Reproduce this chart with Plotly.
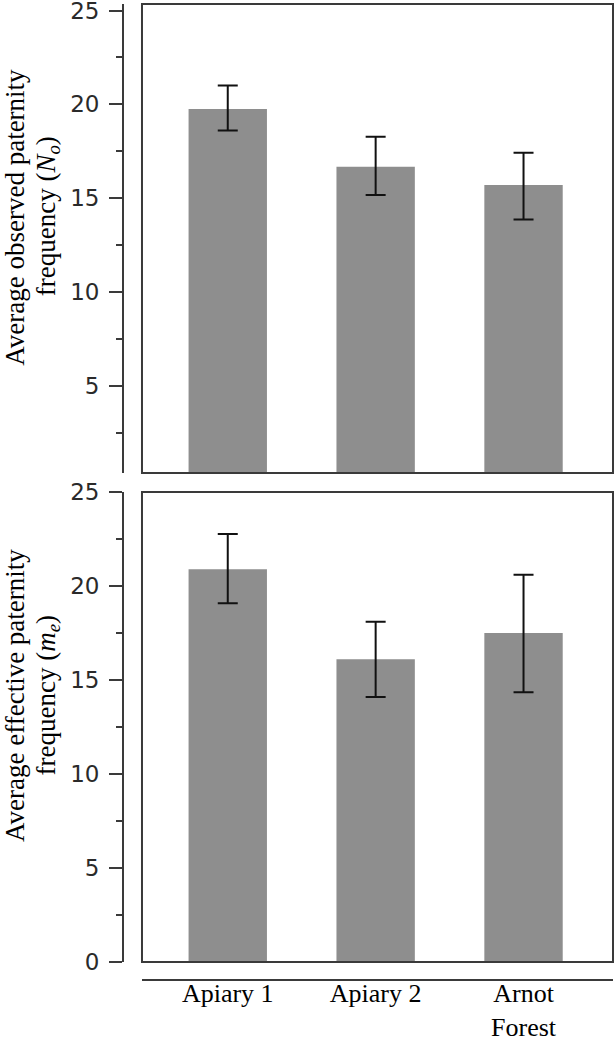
import plotly.graph_objects as go

# ---- data ----
sites = ["Apiary 1", "Apiary 2", "Arnot<br>Forest"]

observed_mean = [19.75, 16.67, 15.70]
observed_upper = [21.00, 18.27, 17.42]
observed_lower = [18.60, 15.17, 13.86]

effective_mean = [20.89, 16.10, 17.50]
effective_upper = [22.77, 18.10, 20.60]
effective_lower = [19.08, 14.10, 14.35]

y_ticks = [0, 5, 10, 15, 20, 25]

BAR = "#8e8e8e"
LINE = "#3a3a3a"
SERIF = "Liberation Serif, Times New Roman, serif"
SANS = "DejaVu Sans, sans-serif"

fig = go.Figure()


def add_panel(mean, upper, lower, xa, ya):
    fig.add_trace(go.Bar(
        x=sites,
        y=mean,
        xaxis=xa,
        yaxis=ya,
        width=0.53,
        marker=dict(color=BAR, line=dict(width=0)),
        error_y=dict(
            type="data",
            symmetric=False,
            array=[u - m for u, m in zip(upper, mean)],
            arrayminus=[m - l for m, l in zip(mean, lower)],
            color="#111111",
            thickness=2,
            width=10,
        ),
        showlegend=False,
    ))


add_panel(observed_mean, observed_upper, observed_lower, "x", "y")
add_panel(effective_mean, effective_upper, effective_lower, "x2", "y2")

# geometry (paper starts at x=120px, y bottom at 980px)
x_dom = [0.0446, 1.0]
axis_pos = 0.0061
top_dom = [0.5195, 1.0]
bot_dom = [0.0184, 0.5]

y_common = dict(
    showline=True, linecolor=LINE, linewidth=2,
    ticks="outside", ticklen=13, tickwidth=2, tickcolor=LINE,
    tickvals=y_ticks, ticklabelstandoff=5, ticklabeloverflow="allow",
    minor=dict(dtick=2.5, ticks="outside", ticklen=6, tickwidth=2, tickcolor=LINE),
    tickfont=dict(family=SANS, size=23, color="#2a2a2a"),
    showgrid=False, zeroline=False, automargin=False,
    anchor="free", position=axis_pos,
)

fig.update_layout(
    width=616, height=1037,
    margin=dict(l=120, r=3, t=4, b=57, autoexpand=False),
    paper_bgcolor="white", plot_bgcolor="white",
    xaxis=dict(domain=x_dom, anchor="y", range=[-0.58, 2.605], automargin=False,
               showticklabels=False, showline=False, showgrid=False, ticks=""),
    yaxis=dict(domain=top_dom, range=[0.35, 25.35], **y_common),
    xaxis2=dict(domain=x_dom, anchor="free", position=0, range=[-0.58, 2.605],
                automargin=False, ticklabelstandoff=-10, ticklabeloverflow="allow",
                showline=True, linecolor=LINE, linewidth=2, ticks="",
                showgrid=False,
                tickfont=dict(family=SERIF, size=26, color="black")),
    yaxis2=dict(domain=bot_dom, range=[0, 25], **y_common),
)

# boxes round each panel
for xr, yr in [("x domain", "y domain"), ("x2 domain", "y2 domain")]:
    fig.add_shape(type="rect", xref=xr, yref=yr, x0=0, x1=1, y0=0, y1=1,
                  line=dict(color=LINE, width=2), layer="above")

# y titles, one annotation per line so the spacing matches
titles = [
    ("Average observed paternity", "frequency (<i>N<sub>o</sub></i>)", 0.782),
    ("Average effective paternity", "frequency (<i>m<sub>e</sub></i>)", 0.292),
]
for line1, line2, yc in titles:
    for txt, xc in [(line1, -0.213), (line2, -0.147)]:
        fig.add_annotation(
            text=txt, xref="paper", yref="paper", x=xc, y=yc,
            xanchor="center", yanchor="middle", textangle=-90, showarrow=False,
            font=dict(family=SERIF, size=27, color="black"),
        )

fig.write_html("out.html", config={"displayModeBar": False},
               post_script="document.body.style.margin='0px';")
